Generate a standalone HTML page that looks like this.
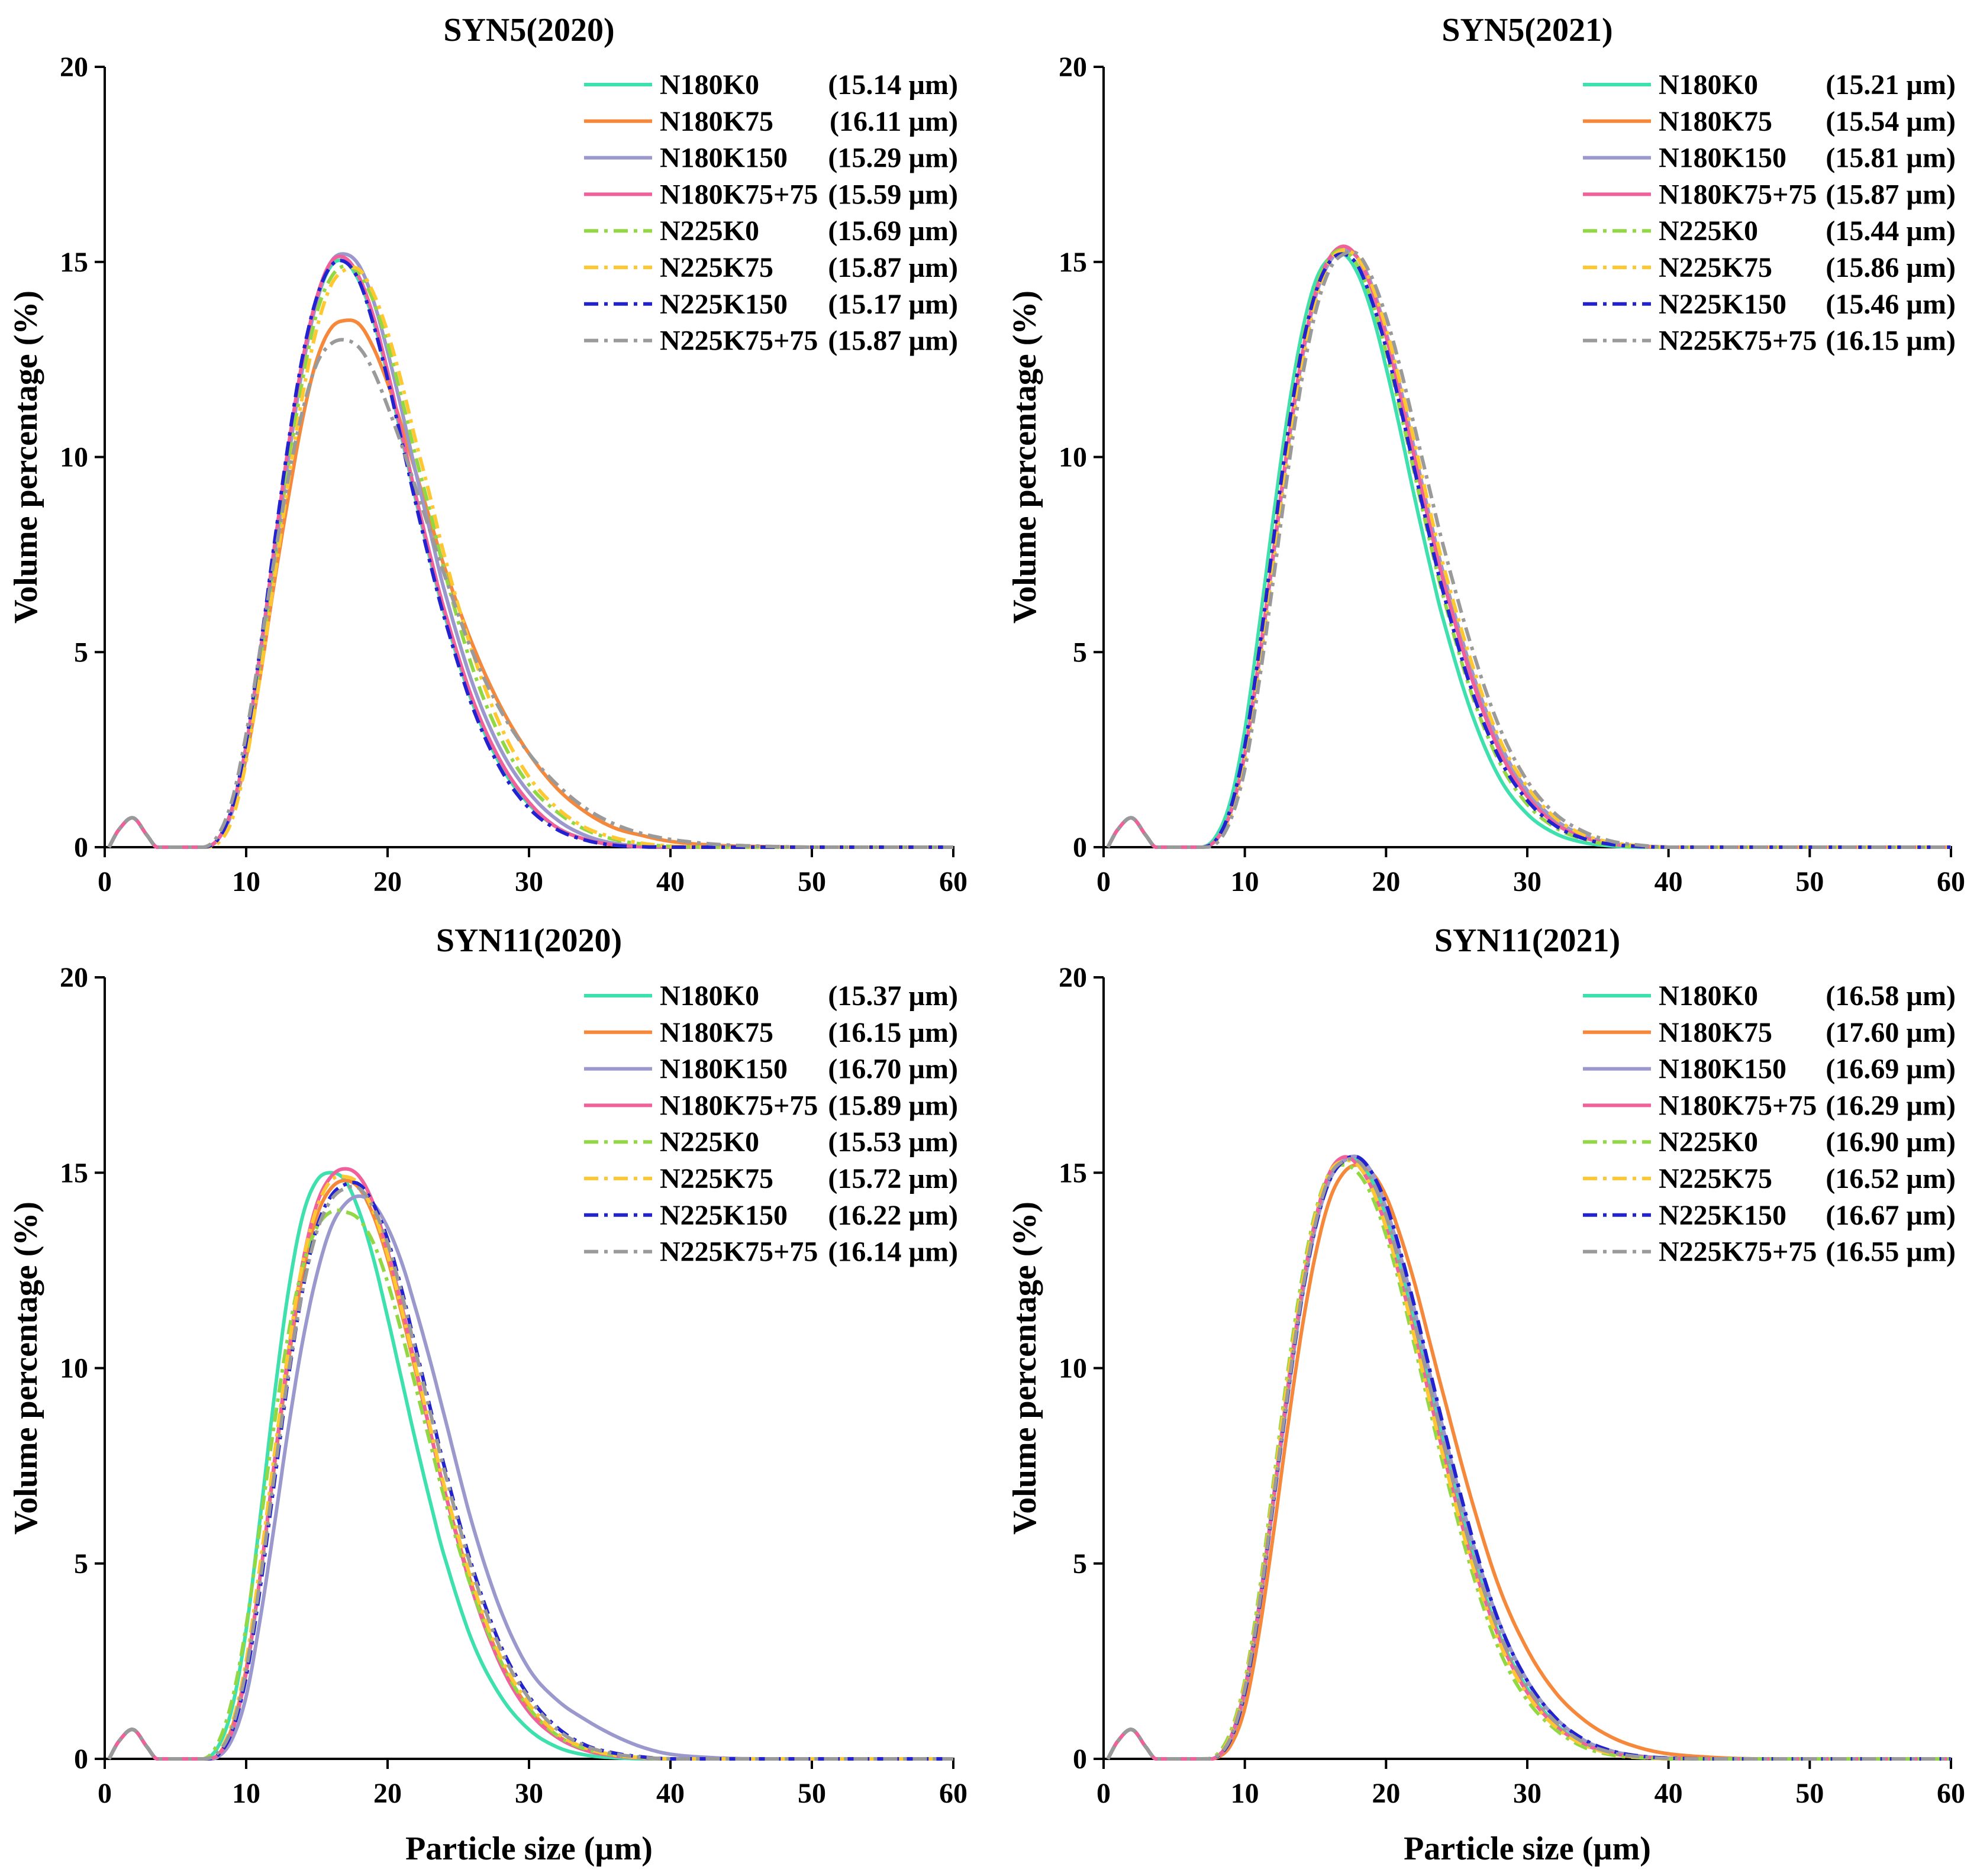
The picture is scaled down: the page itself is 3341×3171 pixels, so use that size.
<!DOCTYPE html>
<html><head><meta charset="utf-8"><style>
html,body{margin:0;padding:0;background:#fff}
svg{display:block}
text{font-family:"Liberation Serif",serif;font-weight:bold;fill:#000}
</style></head><body>
<svg id="fig" xmlns="http://www.w3.org/2000/svg" width="3341" height="3171" viewBox="0 0 3341 3171"></svg>
<script>
const xGrid=[0.3,1,2,3,3.7,7,8,9,10,11,12,13,14,15,16,17,18,19,20,21,22,23,24,26,28,30,32,34,36,38,40,43,46,50,60];
const seriesNames=["N180K0","N180K75","N180K150","N180K75+75","N225K0","N225K75","N225K150","N225K75+75"];
const seriesColors=["#3ee0ae","#f5883a","#9a98cc","#f0609a","#92d844","#ffc832","#2222d0","#9a9a9a"];
const seriesDashed=[false,false,false,false,true,true,true,true];
const panelTitles=["SYN5(2020)","SYN5(2021)","SYN11(2020)","SYN11(2021)"];
const xTicks=[0,10,20,30,40,50,60];
const yTicks=[0,5,10,15,20];
const legendA=["(15.14 µm)","(16.11 µm)","(15.29 µm)","(15.59 µm)","(15.69 µm)","(15.87 µm)","(15.17 µm)","(15.87 µm)"];
const legendB=["(15.21 µm)","(15.54 µm)","(15.81 µm)","(15.87 µm)","(15.44 µm)","(15.86 µm)","(15.46 µm)","(16.15 µm)"];
const legendC=["(15.37 µm)","(16.15 µm)","(16.70 µm)","(15.89 µm)","(15.53 µm)","(15.72 µm)","(16.22 µm)","(16.14 µm)"];
const legendD=["(16.58 µm)","(17.60 µm)","(16.69 µm)","(16.29 µm)","(16.90 µm)","(16.52 µm)","(16.67 µm)","(16.55 µm)"];
const A0=[0,0.45,0.75,0.3,0,0,0.2,1.0,2.6,5.0,7.6,10.2,12.4,14.0,14.9,15.0,14.5,13.5,12.1,10.5,8.9,7.4,6.0,3.7,2.1,1.1,0.5,0.2,0.06,0.01,0,0,0,0,0];
const A1=[0,0.45,0.75,0.3,0,0,0.2,0.9,2.3,4.4,6.8,9.0,11.0,12.5,13.3,13.5,13.4,12.8,11.9,10.8,9.6,8.4,7.2,5.2,3.6,2.4,1.5,0.9,0.5,0.3,0.15,0.05,0.02,0,0];
const A2=[0,0.45,0.75,0.3,0,0,0.2,0.9,2.5,4.8,7.4,10.0,12.3,14.0,15.0,15.2,14.9,14.0,12.7,11.2,9.6,8.1,6.6,4.2,2.5,1.4,0.7,0.3,0.1,0.03,0,0,0,0,0];
const A3=[0,0.45,0.75,0.3,0,0,0.2,1.0,2.6,5.0,7.7,10.3,12.5,14.1,15.0,15.1,14.6,13.6,12.2,10.6,9.0,7.5,6.1,3.8,2.2,1.15,0.5,0.2,0.06,0.01,0,0,0,0,0];
const A4=[0,0.45,0.75,0.3,0,0,0.2,1.0,2.5,4.8,7.3,9.8,12.0,13.7,14.6,14.9,14.7,14.0,12.9,11.5,10.0,8.6,7.1,4.6,2.8,1.6,0.9,0.45,0.2,0.08,0.02,0,0,0,0];
const A5=[0,0.45,0.75,0.3,0,0,0.1,0.7,2.2,4.4,6.9,9.4,11.6,13.3,14.4,14.8,14.8,14.2,13.2,11.9,10.4,9.0,7.5,5.0,3.1,1.8,1.0,0.5,0.25,0.1,0.03,0,0,0,0];
const A6=[0,0.45,0.75,0.3,0,0,0.2,1.0,2.7,5.1,7.8,10.4,12.6,14.1,14.9,15.0,14.5,13.4,12.0,10.4,8.8,7.3,5.9,3.6,2.0,1.0,0.45,0.18,0.05,0.01,0,0,0,0,0];
const A7=[0,0.45,0.75,0.3,0,0,0.3,1.2,2.9,5.1,7.4,9.5,11.2,12.4,12.9,13.0,12.8,12.2,11.3,10.3,9.2,8.1,7.0,5.0,3.5,2.4,1.6,1.0,0.6,0.35,0.2,0.08,0.03,0,0];
const B0=[0,0.45,0.75,0.3,0,0,0.3,1.2,3.0,5.6,8.4,11.0,13.1,14.5,15.1,15.2,14.7,13.7,12.3,10.7,9.0,7.4,5.9,3.5,1.8,0.85,0.35,0.12,0.03,0,0,0,0,0,0];
const B1=[0,0.45,0.75,0.3,0,0,0.2,0.9,2.4,4.8,7.5,10.2,12.5,14.2,15.1,15.4,15.1,14.3,13.1,11.7,10.1,8.5,7.0,4.5,2.6,1.4,0.65,0.28,0.1,0.02,0,0,0,0,0];
const B2=[0,0.45,0.75,0.3,0,0,0.2,0.9,2.4,4.7,7.4,10.1,12.4,14.1,15.0,15.3,15.1,14.4,13.2,11.8,10.2,8.6,7.1,4.6,2.7,1.45,0.7,0.3,0.1,0.03,0,0,0,0,0];
const B3=[0,0.45,0.75,0.3,0,0,0.2,0.9,2.4,4.8,7.5,10.2,12.5,14.2,15.1,15.4,15.1,14.3,13.1,11.6,10.0,8.4,6.9,4.4,2.5,1.3,0.6,0.25,0.08,0.02,0,0,0,0,0];
const B4=[0,0.45,0.75,0.3,0,0,0.2,1.0,2.6,5.1,7.9,10.6,12.8,14.3,15.1,15.3,14.9,14.0,12.7,11.2,9.6,8.0,6.5,4.0,2.2,1.1,0.5,0.2,0.06,0.01,0,0,0,0,0];
const B5=[0,0.45,0.75,0.3,0,0,0.15,0.8,2.2,4.5,7.2,9.9,12.2,14.0,15.0,15.3,15.1,14.4,13.3,11.9,10.4,8.8,7.3,4.8,2.8,1.55,0.75,0.32,0.12,0.04,0,0,0,0,0];
const B6=[0,0.45,0.75,0.3,0,0,0.2,1.0,2.6,5.0,7.8,10.5,12.7,14.2,15.0,15.2,14.9,14.0,12.8,11.3,9.7,8.1,6.6,4.1,2.3,1.2,0.55,0.22,0.07,0.02,0,0,0,0,0];
const B7=[0,0.45,0.75,0.3,0,0,0.1,0.7,2.0,4.2,6.8,9.5,11.9,13.7,14.8,15.2,15.2,14.6,13.6,12.3,10.8,9.3,7.8,5.2,3.1,1.7,0.85,0.4,0.15,0.05,0,0,0,0,0];
const C0=[0,0.45,0.75,0.3,0,0,0.3,1.3,3.3,6.2,9.3,12.0,13.9,14.8,15.0,14.8,14.0,12.8,11.3,9.7,8.1,6.6,5.2,3.0,1.6,0.75,0.3,0.1,0.03,0,0,0,0,0,0];
const C1=[0,0.45,0.75,0.3,0,0,0.1,0.8,2.3,4.7,7.5,10.2,12.4,13.9,14.6,14.8,14.6,13.9,12.8,11.4,9.9,8.4,6.9,4.4,2.5,1.3,0.6,0.25,0.1,0.03,0,0,0,0,0];
const C2=[0,0.45,0.75,0.3,0,0,0.05,0.5,1.6,3.6,6.0,8.5,10.7,12.4,13.6,14.2,14.4,14.2,13.6,12.7,11.5,10.2,8.8,6.0,3.8,2.3,1.5,1.0,0.6,0.3,0.12,0.03,0,0,0];
const C3=[0,0.45,0.75,0.3,0,0,0.1,0.7,2.2,4.7,7.6,10.4,12.7,14.2,14.9,15.1,14.9,14.2,13.0,11.6,10.0,8.4,6.9,4.3,2.4,1.2,0.55,0.22,0.08,0.02,0,0,0,0,0];
const C4=[0,0.45,0.75,0.3,0,0,0.4,1.5,3.4,6.0,8.6,10.9,12.6,13.6,14.0,14.0,13.8,13.2,12.2,10.9,9.5,8.1,6.7,4.3,2.5,1.3,0.6,0.25,0.1,0.03,0,0,0,0,0];
const C5=[0,0.45,0.75,0.3,0,0,0.15,0.9,2.5,5.0,7.8,10.5,12.7,14.1,14.8,14.9,14.7,14.0,12.9,11.5,10.0,8.5,7.0,4.5,2.6,1.4,0.65,0.28,0.1,0.03,0,0,0,0,0];
const C6=[0,0.45,0.75,0.3,0,0,0.1,0.7,2.1,4.4,7.1,9.8,12.0,13.6,14.4,14.7,14.7,14.2,13.3,12.0,10.5,9.0,7.5,4.9,2.9,1.6,0.8,0.35,0.15,0.05,0,0,0,0,0];
const C7=[0,0.45,0.75,0.3,0,0,0.15,0.8,2.3,4.6,7.3,9.9,12.0,13.5,14.3,14.6,14.6,14.1,13.2,11.9,10.4,8.9,7.4,4.8,2.8,1.55,0.75,0.33,0.13,0.04,0,0,0,0,0];
const D0=[0,0.45,0.75,0.3,0,0,0.05,0.55,1.8,3.9,6.6,9.3,11.8,13.7,14.9,15.3,15.3,14.8,13.9,12.6,11.2,9.7,8.2,5.4,3.2,1.8,0.9,0.4,0.15,0.05,0.01,0,0,0,0];
const D1=[0,0.45,0.75,0.3,0,0,0.03,0.35,1.3,3.2,5.7,8.4,10.9,12.9,14.3,15.0,15.2,15.0,14.4,13.4,12.2,10.8,9.4,6.7,4.4,2.8,1.7,1.0,0.55,0.28,0.13,0.04,0,0,0];
const D2=[0,0.45,0.75,0.3,0,0,0.05,0.5,1.7,3.8,6.5,9.2,11.7,13.6,14.8,15.3,15.4,15.0,14.1,12.9,11.5,10.0,8.5,5.7,3.5,2.0,1.05,0.48,0.2,0.07,0.02,0,0,0,0];
const D3=[0,0.45,0.75,0.3,0,0,0.05,0.55,1.8,3.9,6.6,9.4,11.9,13.8,15.0,15.4,15.2,14.6,13.6,12.3,10.9,9.4,7.9,5.2,3.1,1.7,0.85,0.38,0.14,0.05,0.01,0,0,0,0];
const D4=[0,0.45,0.75,0.3,0,0,0.1,0.7,2.0,4.2,7.0,9.8,12.2,14.0,15.0,15.2,15.0,14.4,13.4,12.1,10.6,9.1,7.6,4.9,2.8,1.5,0.75,0.3,0.1,0.03,0,0,0,0,0];
const D5=[0,0.45,0.75,0.3,0,0,0.07,0.6,1.9,4.0,6.8,9.6,12.0,13.9,15.0,15.3,15.2,14.6,13.6,12.3,10.8,9.3,7.8,5.1,3.0,1.65,0.82,0.36,0.13,0.04,0,0,0,0,0];
const D6=[0,0.45,0.75,0.3,0,0,0.05,0.5,1.7,3.8,6.5,9.2,11.7,13.6,14.8,15.3,15.4,15.0,14.2,13.0,11.6,10.1,8.6,5.8,3.5,2.0,1.05,0.5,0.2,0.07,0.02,0,0,0,0];
const D7=[0,0.45,0.75,0.3,0,0,0.06,0.55,1.8,3.9,6.6,9.3,11.8,13.7,14.9,15.3,15.3,14.8,13.9,12.6,11.2,9.7,8.2,5.4,3.25,1.85,0.95,0.42,0.16,0.05,0.01,0,0,0,0];

const panelSeries=[[A0,A1,A2,A3,A4,A5,A6,A7],[B0,B1,B2,B3,B4,B5,B6,B7],[C0,C1,C2,C3,C4,C5,C6,C7],[D0,D1,D2,D3,D4,D5,D6,D7]];
const panelLegends=[legendA,legendB,legendC,legendD];

const NS="http://www.w3.org/2000/svg";
const svg=document.getElementById('fig');
function mk(tag,attrs,parent){const e=document.createElementNS(NS,tag);for(const k in attrs)e.setAttribute(k,attrs[k]);(parent||svg).appendChild(e);return e;}

const panelGeom=[{x0:177,x1:1611,y0:1432,y1:113},{x0:1865,x1:3297,y0:1432,y1:113},{x0:177,x1:1611,y0:2973,y1:1652},{x0:1865,x1:3297,y0:2973,y1:1652}];

function catmull(xs,ys,sx,sy){
  const pts=[];
  for(let i=0;i<xs.length-1;i++){
    const x0=xs[Math.max(i-1,0)],y0=ys[Math.max(i-1,0)],x1=xs[i],y1=ys[i],x2=xs[i+1],y2=ys[i+1],x3=xs[Math.min(i+2,xs.length-1)],y3=ys[Math.min(i+2,xs.length-1)];
    const n=16;
    for(let k=0;k<n;k++){
      const t=k/n,t2=t*t,t3=t2*t;
      const m1=(y2-y0)/(x2-x0||1)*(x2-x1),m2=(y3-y1)/(x3-x1||1)*(x2-x1);
      let y=(2*t3-3*t2+1)*y1+(t3-2*t2+t)*m1+(-2*t3+3*t2)*y2+(t3-t2)*m2;
      if(y<0)y=0;
      const x=x1+(x2-x1)*t;
      pts.push(sx(x).toFixed(1)+","+sy(y).toFixed(1));
    }
  }
  pts.push(sx(xs[xs.length-1]).toFixed(1)+","+sy(ys[ys.length-1]).toFixed(1));
  return pts.join(" ");
}

panelGeom.forEach((g,p)=>{
  const grp=mk('g',{});
  
  
  const sx=v=>g.x0+(g.x1-g.x0)*v/60;
  const sy=v=>g.y0+(g.y1-g.y0)*v/20;
  const t=mk('text',{x:(g.x0+g.x1)/2,y:g.y1-44,'text-anchor':'middle','font-size':56},grp);
  t.textContent=panelTitles[p];
  
  
  const ax=mk('line',{x1:g.x0,y1:g.y0,x2:g.x1+2,y2:g.y0,stroke:'#000','stroke-width':4},grp);
  
  
  const ay=mk('line',{x1:g.x0,y1:g.y0+2,x2:g.x0,y2:g.y1,stroke:'#000','stroke-width':4},grp);
  
  
  xTicks.forEach(v=>{
    mk('line',{x1:sx(v),y1:g.y0,x2:sx(v),y2:g.y0+17,stroke:'#000','stroke-width':4},grp);
    const tl=mk('text',{x:sx(v),y:g.y0+74,'text-anchor':'middle','font-size':48},grp);
    tl.textContent=v;
    
    
  });
  yTicks.forEach(v=>{
    mk('line',{x1:g.x0-17,y1:sy(v),x2:g.x0,y2:sy(v),stroke:'#000','stroke-width':4},grp);
    const tl=mk('text',{x:g.x0-28,y:sy(v)+16,'text-anchor':'end','font-size':48},grp);
    tl.textContent=v;
    
    
  });
  const yt=mk('text',{x:0,y:0,'text-anchor':'middle','font-size':56,transform:`translate(${g.x0-115},${(g.y0+g.y1)/2}) rotate(-90)`},grp);
  yt.textContent='Volume percentage (%)';
  
  
  if(p>=2){
    const xt=mk('text',{x:(g.x0+g.x1)/2,y:3143,'text-anchor':'middle','font-size':56},grp);
    xt.textContent='Particle size (µm)';
    
    
  }
  panelSeries[p].forEach((ys,i)=>{
    const pl=mk('polyline',{points:catmull(xGrid,ys,sx,sy),fill:'none',stroke:seriesColors[i],'stroke-width':6,'stroke-linejoin':'round'},grp);
    if(seriesDashed[i])pl.setAttribute('stroke-dasharray','24 10 6 10');
    
    
  });
  const lx=g.x0+810;
  panelLegends[p].forEach((val,i)=>{
    const ly=143+61.8*i+(p>=2?1540:0);
    const le=mk('g',{},grp);
    
    
    const ln=mk('line',{x1:lx,y1:ly,x2:lx+115,y2:ly,stroke:seriesColors[i],'stroke-width':6},le);
    if(seriesDashed[i])ln.setAttribute('stroke-dasharray','24 10 6 10');
    const n=mk('text',{x:lx+128,y:ly+16,'font-size':48},le);
    n.textContent=seriesNames[i];
    const v=mk('text',{x:g.x1+8,y:ly+16,'text-anchor':'end','font-size':48},le);
    v.textContent=val;
  });
});
</script>
</body></html>
